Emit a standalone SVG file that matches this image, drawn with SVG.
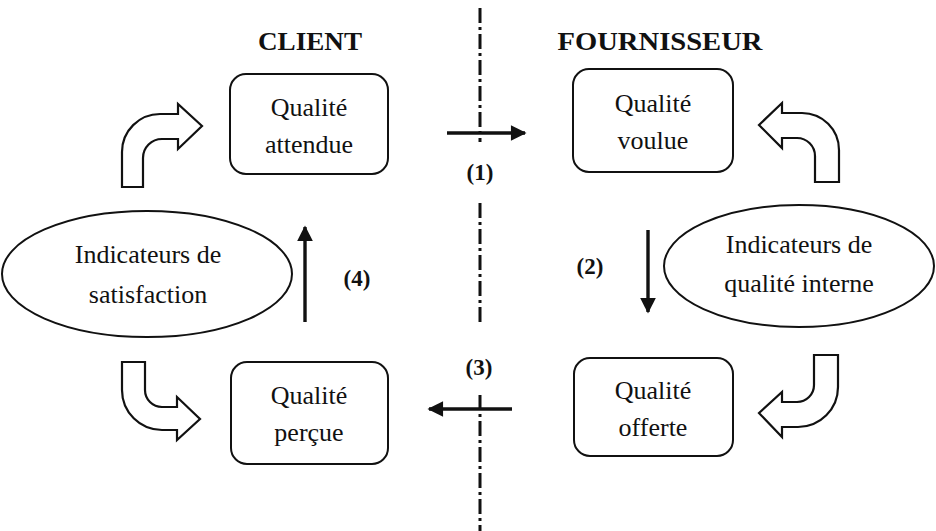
<svg xmlns="http://www.w3.org/2000/svg" width="936" height="531" viewBox="0 0 936 531">
  <defs>
    <marker id="head" viewBox="0 0 10 10" refX="9" refY="5" markerWidth="5" markerHeight="4.6" markerUnits="strokeWidth" orient="auto">
      <path d="M0,0 L10,5 L0,10 Z" fill="#111"/>
    </marker>
    <style>
      .box { fill: #fff; stroke: #111; stroke-width: 2; }
      .oval { fill: #fff; stroke: #111; stroke-width: 2; }
      .bend { fill: #fff; stroke: #111; stroke-width: 2.2; stroke-linejoin: miter; }
      .flow { stroke: #111; stroke-width: 3.4; fill: none; marker-end: url(#head); }
      .divider { stroke: #111; stroke-width: 3; stroke-dasharray: 15 4 3 4; fill: none; }
      .t { font-family: "Liberation Serif", "Times New Roman", serif; font-size: 26px; fill: #111; text-anchor: middle; }
      .hd { font-family: "Liberation Serif", "Times New Roman", serif; font-size: 25px; font-weight: bold; fill: #111; text-anchor: middle; }
      .num { font-family: "Liberation Serif", "Times New Roman", serif; font-size: 23px; font-weight: bold; fill: #111; text-anchor: middle; }
    </style>
  </defs>
  <rect width="936" height="531" fill="#fff"/>

  <!-- side headings -->
  <text class="hd" x="310" y="50" textLength="104" lengthAdjust="spacingAndGlyphs">CLIENT</text>
  <text class="hd" x="660" y="50" textLength="205" lengthAdjust="spacingAndGlyphs">FOURNISSEUR</text>

  <!-- connectors -->
  <g id="connectors">
    <path class="divider" d="M480,8 V142"/>
    <path class="divider" d="M480,203 V325"/>
    <path class="divider" d="M480,395 V531"/>
    <path class="flow" d="M447,133 H525"/>
    <path class="flow" d="M648,230 V312"/>
    <path class="flow" d="M512,409 H429"/>
    <path class="flow" d="M305,322 V227"/>
    <text class="num" x="480" y="180">(1)</text>
    <text class="num" x="590" y="274">(2)</text>
    <text class="num" x="479" y="375">(3)</text>
    <text class="num" x="357" y="286">(4)</text>
    <path class="bend" d="M122,187 L122,152 A38,38 0 0 1 160,114 L178,114 L178,104 L202,126 L178,149 L178,139 L162,139 A19,19 0 0 0 143,158 L143,187 Z"/>
    <path class="bend" d="M839,182 L839,150 A37,37 0 0 0 802,113 L782,113 L782,103 L759,125 L782,148 L782,138 L797,138 A18,18 0 0 1 815,156 L815,182 Z"/>
    <path class="bend" d="M122,362 L145,362 L145,390 A17,17 0 0 0 162,407 L177,407 L177,397 L200,419 L177,440 L177,430 L162,430 A40,40 0 0 1 122,390 Z"/>
    <path class="bend" d="M838,355 L814,355 L814,385 A17,17 0 0 1 797,402 L782,402 L782,392 L759,413 L782,437 L782,427 L798,427 A40,40 0 0 0 838,387 Z"/>
  </g>

  <g id="qualite-attendue">
    <rect class="box" x="230" y="74" width="158" height="100" rx="16"/>
    <text class="t" x="309" y="116">Qualité</text>
    <text class="t" x="309" y="153">attendue</text>
  </g>

  <g id="qualite-voulue">
    <rect class="box" x="573" y="69" width="160" height="103" rx="16"/>
    <text class="t" x="653" y="112">Qualité</text>
    <text class="t" x="653" y="149">voulue</text>
  </g>

  <g id="qualite-percue">
    <rect class="box" x="231" y="362" width="157" height="102" rx="16"/>
    <text class="t" x="309" y="404">Qualité</text>
    <text class="t" x="309" y="441">perçue</text>
  </g>

  <g id="qualite-offerte">
    <rect class="box" x="574" y="358" width="159" height="98" rx="16"/>
    <text class="t" x="653" y="399">Qualité</text>
    <text class="t" x="653" y="436">offerte</text>
  </g>

  <g id="indicateurs-satisfaction">
    <ellipse class="oval" cx="147" cy="274" rx="145" ry="63"/>
    <text class="t" x="148" y="263">Indicateurs de</text>
    <text class="t" x="148" y="303">satisfaction</text>
  </g>

  <g id="indicateurs-qualite-interne">
    <ellipse class="oval" cx="799" cy="266" rx="135" ry="61"/>
    <text class="t" x="799" y="253">Indicateurs de</text>
    <text class="t" x="799" y="292">qualité interne</text>
  </g>
</svg>
